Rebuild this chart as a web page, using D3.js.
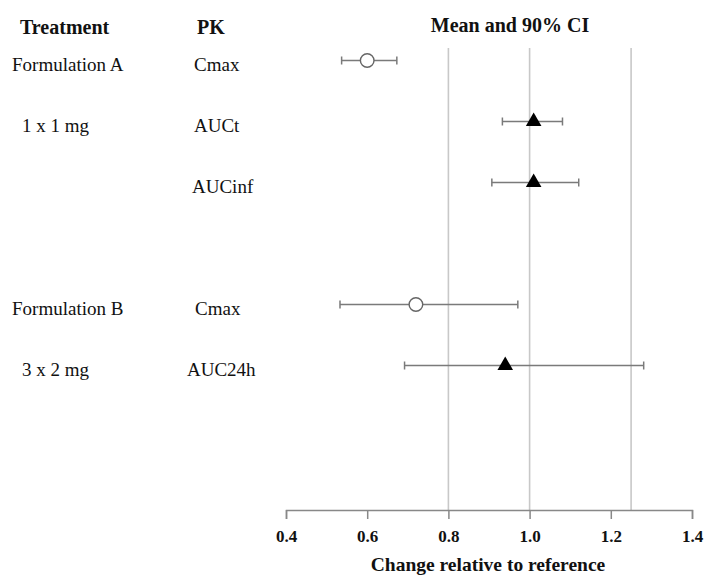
<!DOCTYPE html>
<html>
<head>
<meta charset="utf-8">
<script src="https://cdn.jsdelivr.net/npm/d3@7"></script>
<style>
  html, body { margin: 0; padding: 0; background: #fff; }
  svg { display: block; font-family: "Liberation Serif", "Times New Roman", serif; }
</style>
</head>
<body>
<svg id="chart" width="704" height="577"></svg>
<script>
// Forest plot rows: treatment label, PK parameter, mean and 90% CI
const treatments = ["Formulation A", "1 x 1 mg", "", "Formulation B", "3 x 2 mg"];
const pkParams   = ["Cmax", "AUCt", "AUCinf", "Cmax", "AUC24h"];
const rowSlots   = [0, 1, 2, 4, 5];          // slot 3 is the spacer between formulations
const means      = [0.60, 1.01, 1.01, 0.72, 0.94];
const ciLower    = [0.537, 0.933, 0.907, 0.533, 0.692];
const ciUpper    = [0.673, 1.081, 1.121, 0.971, 1.281];
const markers    = ["circle", "triangle", "triangle", "circle", "triangle"];
const refLines   = [0.8, 1.0, 1.25];
const xTicks     = [0.4, 0.6, 0.8, 1.0, 1.2, 1.4];

const svg = d3.select("#chart");

const x = d3.scaleLinear().domain([0.4, 1.4]).range([286, 692]);
const y = d3.scaleBand().domain(d3.range(7)).range([30, 457]).paddingInner(0);
const yc = i => y(i) + y.bandwidth() / 2;
const axisY = 510;

// Header row
const header = svg.append("g").attr("font-weight", "bold").attr("font-size", 20).attr("fill", "#111");
header.append("text").attr("x", 20).attr("y", 34).text("Treatment");
header.append("text").attr("x", 197).attr("y", 34).text("PK");
header.append("text").attr("x", 510).attr("y", 32).attr("text-anchor", "middle").text("Mean and 90% CI");

// Reference lines
svg.append("g").selectAll("line").data(refLines).join("line")
  .attr("x1", d => x(d)).attr("x2", d => x(d))
  .attr("y1", 48).attr("y2", axisY)
  .attr("stroke", "#c8c8c8").attr("stroke-width", 1.6);

// Row labels
const labels = svg.append("g").attr("font-size", 19).attr("fill", "#111");
const treatX = [12, 22, 0, 12, 22];
const pkX = [194, 194, 192, 195, 187];
labels.selectAll("text.treat").data(treatments).join("text")
  .attr("class", "treat")
  .attr("x", (d, i) => treatX[i])
  .attr("y", (d, i) => yc(rowSlots[i]) + 10)
  .text(d => d);
labels.selectAll("text.pk").data(pkParams).join("text")
  .attr("class", "pk")
  .attr("x", (d, i) => pkX[i])
  .attr("y", (d, i) => yc(rowSlots[i]) + 10)
  .text(d => d);

// Confidence intervals
const ci = svg.append("g").attr("stroke", "#7a7a7a").attr("stroke-width", 1.5);
means.forEach((m, i) => {
  const cy = yc(rowSlots[i]);
  ci.append("line").attr("x1", x(ciLower[i])).attr("x2", x(ciUpper[i])).attr("y1", cy).attr("y2", cy);
  ci.append("line").attr("x1", x(ciLower[i])).attr("x2", x(ciLower[i])).attr("y1", cy - 4).attr("y2", cy + 4);
  ci.append("line").attr("x1", x(ciUpper[i])).attr("x2", x(ciUpper[i])).attr("y1", cy - 4).attr("y2", cy + 4);
});

// Point estimates
const tri = d3.symbol().type(d3.symbolTriangle).size(105);
means.forEach((m, i) => {
  const cy = yc(rowSlots[i]);
  if (markers[i] === "circle") {
    svg.append("circle").attr("cx", x(m)).attr("cy", cy).attr("r", 6.8)
      .attr("fill", "#fff").attr("stroke", "#666").attr("stroke-width", 1.4);
  } else {
    svg.append("path").attr("d", tri)
      .attr("transform", `translate(${x(m)},${cy})`)
      .attr("fill", "#000");
  }
});

// X axis
const axis = svg.append("g").attr("transform", `translate(0,${axisY})`)
  .call(d3.axisBottom(x).tickValues(xTicks).tickFormat(d3.format(".1f")).tickSize(9).tickPadding(11));
axis.select(".domain").attr("stroke", "#888").attr("stroke-width", 1.5);
axis.selectAll(".tick line").attr("stroke", "#888").attr("stroke-width", 1.5);
axis.selectAll(".tick text")
  .attr("font-family", "Liberation Serif, serif")
  .attr("font-size", 17).attr("font-weight", "bold").attr("fill", "#111");

svg.append("text").attr("x", 488).attr("y", 571).attr("text-anchor", "middle")
  .attr("font-size", 19.5).attr("font-weight", "bold").attr("fill", "#111")
  .text("Change relative to reference");
</script>
</body>
</html>
